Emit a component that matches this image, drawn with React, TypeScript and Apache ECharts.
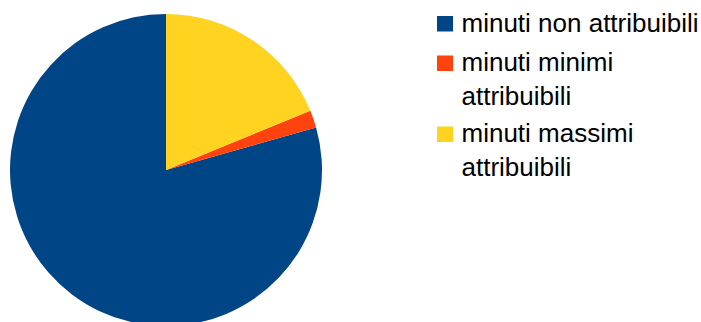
import React, { useEffect, useRef } from "react";
import * as echarts from "echarts";

const categories = [
  "minuti non attribuibili",
  "minuti minimi attribuibili",
  "minuti massimi attribuibili",
];
const values = [79.4, 1.8, 18.8];
const colors = ["#004586", "#ff420e", "#ffd320"];

const FONT = "'Liberation Sans', Arial, sans-serif";

export default function App() {
  const ref = useRef<HTMLDivElement>(null);
  useEffect(() => {
    if (!ref.current) return;
    const chart = echarts.init(ref.current, null, { renderer: "svg" });
    const lineH = 34.5;
    const firstCenters = [23, 61.5, 132.5];
    const squareTops = [16, 55.5, 126.5];
    const graphic: any[] = [];
    categories.forEach((c, i) => {
      const cy = firstCenters[i];
      graphic.push({
        type: "rect",
        shape: { x: 437, y: squareTops[i], width: 16, height: 15.5 },
        style: { fill: colors[i] },
      });
      graphic.push({
        type: "text",
        x: 461.5,
        y: cy - lineH / 2,
        style: {
          text: c,
          fill: "#000",
          fontSize: 26,
          fontFamily: FONT,
          lineHeight: lineH,
          width: 238,
          overflow: "break",
          verticalAlign: "top",
          align: "left",
        },
      });
    });
    chart.setOption({
      animation: false,
      backgroundColor: "#fff",
      graphic,
      series: [
        {
          type: "pie",
          center: [166, 170],
          radius: 156,
          startAngle: 90,
          clockwise: false,
          label: { show: false },
          labelLine: { show: false },
          emphasis: { disabled: true },
          itemStyle: { borderWidth: 0 },
          data: categories.map((c, i) => ({
            name: c,
            value: values[i],
            itemStyle: { color: colors[i] },
          })),
        },
      ],
    });
    return () => chart.dispose();
  }, []);
  return (
    <div
      ref={ref}
      style={{ position: "fixed", left: 0, top: 0, width: 701, height: 322 }}
    />
  );
}
